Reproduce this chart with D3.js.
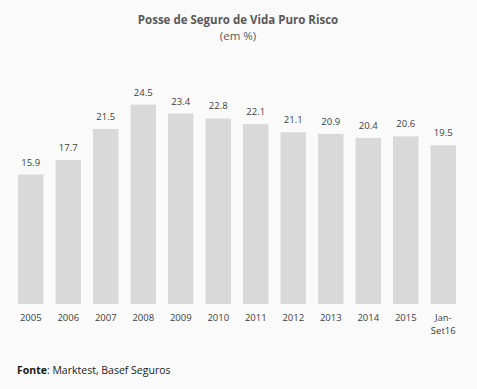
<!DOCTYPE html>
<html>
<head>
<script src="https://d3js.org/d3.v7.min.js"></script>
<style>
  body { margin: 0; background: #fafafa; }
  svg { display: block; background: #fafafa; font-family: "Open Sans", "Liberation Sans", sans-serif; }
</style>
</head>
<body>
<div id="chart"></div>
<script>
var categories = ["2005", "2006", "2007", "2008", "2009", "2010", "2011", "2012", "2013", "2014", "2015", "Jan-Set16"];
var values = [15.9, 17.7, 21.5, 24.5, 23.4, 22.8, 22.1, 21.1, 20.9, 20.4, 20.6, 19.5];
var tickLabels = [["2005"], ["2006"], ["2007"], ["2008"], ["2009"], ["2010"], ["2011"], ["2012"], ["2013"], ["2014"], ["2015"], ["Jan-", "Set16"]];

var width = 477, height = 389;
var baseline = 304;

var svg = d3.select("#chart").append("svg")
    .attr("width", width)
    .attr("height", height);

var x = d3.scaleBand()
    .domain(categories)
    .range([12, 462])
    .paddingInner(0.32)
    .paddingOuter(0.16);

var y = d3.scaleLinear()
    .domain([0, 24.5])
    .range([baseline, 104.6]);

// title
svg.append("text")
    .attr("x", 238).attr("y", 24)
    .attr("text-anchor", "middle")
    .attr("font-size", 11.5).attr("font-weight", "bold")
    .attr("fill", "#595959")
    .text("Posse de Seguro de Vida Puro Risco");
svg.append("text")
    .attr("x", 238).attr("y", 40)
    .attr("text-anchor", "middle")
    .attr("font-size", 11.5)
    .attr("fill", "#595959")
    .text("(em %)");

// bars
svg.selectAll(".bar")
    .data(values)
    .enter().append("rect")
    .attr("class", "bar")
    .attr("x", function(d, i) { return x(categories[i]); })
    .attr("y", function(d) { return y(d); })
    .attr("width", x.bandwidth())
    .attr("height", function(d) { return baseline - y(d); })
    .attr("fill", "#d9d9d9");

// value labels
svg.selectAll(".val")
    .data(values)
    .enter().append("text")
    .attr("class", "val")
    .attr("x", function(d, i) { return x(categories[i]) + x.bandwidth() / 2; })
    .attr("y", function(d) { return y(d) - 9; })
    .attr("text-anchor", "middle")
    .attr("font-size", 9.5)
    .attr("fill", "#404040")
    .text(function(d) { return d.toFixed(1); });

// category labels
var ticks = svg.selectAll(".tick")
    .data(categories)
    .enter().append("text")
    .attr("class", "tick")
    .attr("x", function(d) { return x(d) + x.bandwidth() / 2; })
    .attr("y", 321)
    .attr("text-anchor", "middle")
    .attr("font-size", 9.5)
    .attr("fill", "#404040");
ticks.each(function(d, i) {
  var t = d3.select(this);
  tickLabels[i].forEach(function(line, j) {
    t.append("tspan")
      .attr("x", x(d) + x.bandwidth() / 2)
      .attr("dy", j === 0 ? 0 : 13)
      .text(line);
  });
});

// source
var src = svg.append("text")
    .attr("x", 17).attr("y", 374)
    .attr("font-size", 10.5)
    .attr("fill", "#1a1a1a");
src.append("tspan").attr("font-weight", "bold").text("Fonte");
src.append("tspan").text(": Marktest, Basef Seguros");
</script>
</body>
</html>
